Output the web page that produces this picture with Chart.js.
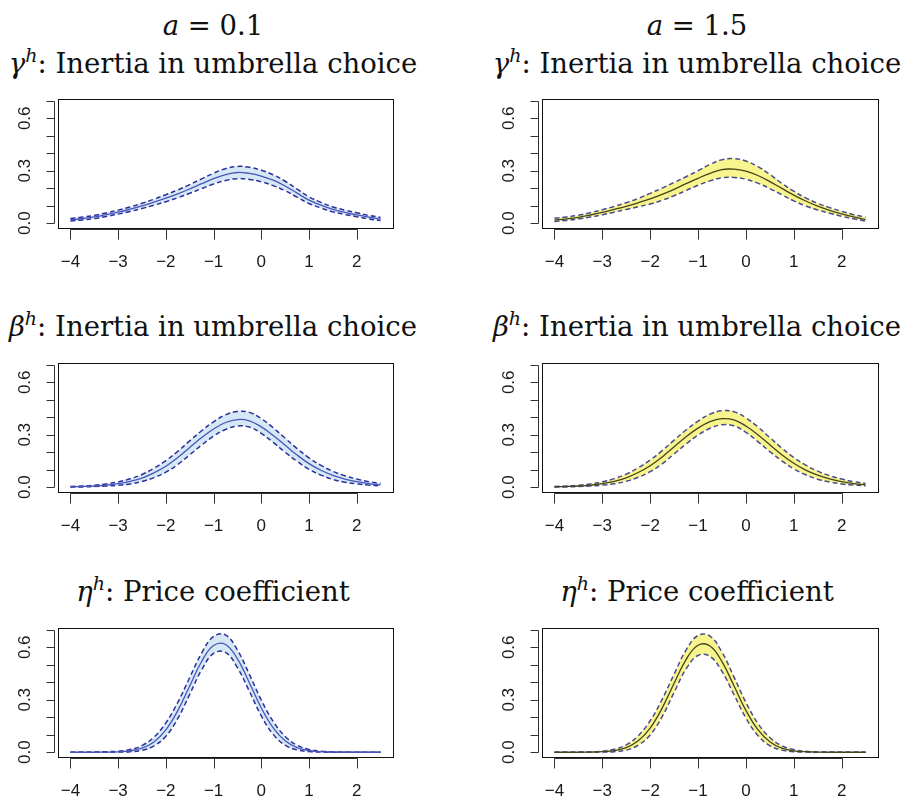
<!DOCTYPE html>
<html>
<head>
<meta charset="utf-8">
<script src="https://cdn.jsdelivr.net/npm/chart.js@4.4.0/dist/chart.umd.min.js"></script>
<style>
  body { margin: 0; width: 904px; height: 798px; overflow: hidden; background: #fff; position: relative; }
  .ttl { position: absolute; width: 426px; text-align: center; font-family: "DejaVu Serif", serif;
         font-size: 27.5px; line-height: 29px; white-space: nowrap; color: #111; }
  .ttl sup { font-size: 19px; line-height: 0; vertical-align: baseline; position: relative; top: -11px; }
  canvas { position: absolute; }
</style>
</head>
<body>
<div class="ttl" style="left:0;top:11px"><i>a</i> = 0.1</div>
<div class="ttl" style="left:484px;top:11px"><i>a</i> = 1.5</div>
<div class="ttl" style="left:0;top:49px"><i>γ</i><sup><i>h</i></sup>: Inertia in umbrella choice</div>
<div class="ttl" style="left:484px;top:49px"><i>γ</i><sup><i>h</i></sup>: Inertia in umbrella choice</div>
<div class="ttl" style="left:0;top:312px"><i>β</i><sup><i>h</i></sup>: Inertia in umbrella choice</div>
<div class="ttl" style="left:484px;top:312px"><i>β</i><sup><i>h</i></sup>: Inertia in umbrella choice</div>
<div class="ttl" style="left:0;top:577px"><i>η</i><sup><i>h</i></sup>: Price coefficient</div>
<div class="ttl" style="left:484px;top:577px"><i>η</i><sup><i>h</i></sup>: Price coefficient</div>

<canvas id="c1" width="405" height="181" style="left:0;top:89px"></canvas>
<canvas id="c2" width="406" height="181" style="left:484px;top:89px"></canvas>
<canvas id="c3" width="405" height="181" style="left:0;top:353px"></canvas>
<canvas id="c4" width="406" height="181" style="left:484px;top:353px"></canvas>
<canvas id="c5" width="405" height="181" style="left:0;top:618px"></canvas>
<canvas id="c6" width="406" height="181" style="left:484px;top:618px"></canvas>

<script>
var xs = [-4, -3.75, -3.5, -3.25, -3, -2.75, -2.5, -2.25, -2, -1.75, -1.5, -1.25, -1, -0.75, -0.5, -0.25,
          0, 0.25, 0.5, 0.75, 1, 1.25, 1.5, 1.75, 2, 2.25, 2.5];

// gamma^h
var gamma01Mean = [0.020, 0.027, 0.036, 0.049, 0.063, 0.080, 0.099, 0.120, 0.143, 0.168, 0.196, 0.226, 0.255, 0.278, 0.290, 0.285, 0.270, 0.246, 0.213, 0.172, 0.132, 0.103, 0.079, 0.062, 0.048, 0.035, 0.024];
var gamma01Up   = [0.027, 0.035, 0.045, 0.059, 0.075, 0.093, 0.114, 0.137, 0.163, 0.190, 0.221, 0.254, 0.286, 0.312, 0.325, 0.320, 0.303, 0.277, 0.240, 0.195, 0.151, 0.119, 0.093, 0.075, 0.060, 0.045, 0.033];
var gamma01Lo   = [0.013, 0.019, 0.027, 0.039, 0.052, 0.067, 0.084, 0.103, 0.123, 0.146, 0.171, 0.198, 0.224, 0.244, 0.255, 0.250, 0.237, 0.215, 0.186, 0.149, 0.113, 0.087, 0.065, 0.050, 0.037, 0.025, 0.015];
var gamma15Mean = [0.018, 0.025, 0.034, 0.047, 0.062, 0.079, 0.097, 0.117, 0.139, 0.165, 0.194, 0.226, 0.257, 0.285, 0.307, 0.309, 0.298, 0.273, 0.238, 0.199, 0.161, 0.127, 0.098, 0.074, 0.054, 0.036, 0.021];
var gamma15Up   = [0.029, 0.036, 0.046, 0.060, 0.077, 0.096, 0.117, 0.142, 0.171, 0.201, 0.233, 0.266, 0.300, 0.336, 0.363, 0.369, 0.356, 0.324, 0.279, 0.228, 0.183, 0.145, 0.114, 0.089, 0.068, 0.049, 0.034];
var gamma15Lo   = [0.010, 0.016, 0.024, 0.035, 0.048, 0.063, 0.079, 0.094, 0.110, 0.131, 0.157, 0.187, 0.217, 0.242, 0.260, 0.262, 0.252, 0.229, 0.198, 0.163, 0.128, 0.099, 0.076, 0.057, 0.040, 0.025, 0.012];

// beta^h
var beta01Mean = [0.002, 0.004, 0.007, 0.012, 0.020, 0.033, 0.052, 0.082, 0.120, 0.170, 0.227, 0.284, 0.333, 0.370, 0.387, 0.380, 0.345, 0.296, 0.240, 0.184, 0.135, 0.097, 0.068, 0.047, 0.032, 0.021, 0.014];
var beta01Up   = [0.004, 0.007, 0.011, 0.019, 0.030, 0.048, 0.073, 0.108, 0.152, 0.205, 0.265, 0.323, 0.374, 0.414, 0.433, 0.428, 0.392, 0.340, 0.280, 0.221, 0.168, 0.125, 0.091, 0.066, 0.047, 0.032, 0.022];
var beta01Lo   = [0.001, 0.002, 0.004, 0.007, 0.011, 0.019, 0.033, 0.055, 0.086, 0.130, 0.185, 0.241, 0.292, 0.330, 0.350, 0.344, 0.308, 0.256, 0.200, 0.148, 0.102, 0.069, 0.045, 0.029, 0.019, 0.012, 0.008];
var beta15Mean = [0.002, 0.004, 0.007, 0.012, 0.021, 0.034, 0.054, 0.084, 0.123, 0.173, 0.231, 0.289, 0.338, 0.375, 0.392, 0.385, 0.350, 0.300, 0.243, 0.186, 0.137, 0.098, 0.069, 0.048, 0.032, 0.021, 0.014];
var beta15Up   = [0.004, 0.007, 0.011, 0.019, 0.031, 0.049, 0.075, 0.111, 0.156, 0.209, 0.269, 0.327, 0.378, 0.418, 0.437, 0.432, 0.397, 0.345, 0.284, 0.224, 0.170, 0.126, 0.092, 0.066, 0.047, 0.032, 0.022];
var beta15Lo   = [0.001, 0.002, 0.004, 0.007, 0.012, 0.020, 0.034, 0.057, 0.089, 0.134, 0.190, 0.247, 0.298, 0.337, 0.357, 0.351, 0.314, 0.261, 0.204, 0.151, 0.105, 0.071, 0.046, 0.030, 0.019, 0.012, 0.008];

// eta^h
var eta01Mean = [0, 0, 0, 0.001, 0.002, 0.008, 0.023, 0.059, 0.128, 0.238, 0.379, 0.519, 0.610, 0.616, 0.534, 0.397, 0.253, 0.139, 0.065, 0.026, 0.009, 0.003, 0.001, 0, 0, 0, 0];
var eta01Up   = [0, 0, 0.001, 0.003, 0.006, 0.015, 0.038, 0.086, 0.168, 0.285, 0.427, 0.567, 0.662, 0.671, 0.584, 0.445, 0.298, 0.176, 0.090, 0.040, 0.016, 0.006, 0.002, 0.001, 0, 0, 0];
var eta01Lo   = [0, 0, 0, 0, 0.001, 0.003, 0.011, 0.036, 0.091, 0.193, 0.331, 0.471, 0.565, 0.571, 0.484, 0.349, 0.208, 0.102, 0.040, 0.013, 0.004, 0.001, 0, 0, 0, 0, 0];
var eta15Mean = [0, 0, 0, 0.001, 0.003, 0.009, 0.026, 0.065, 0.138, 0.252, 0.394, 0.530, 0.612, 0.607, 0.518, 0.380, 0.239, 0.129, 0.060, 0.023, 0.008, 0.003, 0.001, 0, 0, 0, 0];
var eta15Up   = [0, 0, 0.001, 0.002, 0.006, 0.017, 0.042, 0.094, 0.180, 0.302, 0.446, 0.584, 0.668, 0.664, 0.572, 0.431, 0.285, 0.165, 0.084, 0.037, 0.015, 0.005, 0.002, 0.001, 0, 0, 0];
var eta15Lo   = [0, 0, 0, 0, 0.001, 0.003, 0.012, 0.040, 0.099, 0.203, 0.342, 0.476, 0.553, 0.548, 0.462, 0.330, 0.196, 0.096, 0.038, 0.012, 0.003, 0.001, 0, 0, 0, 0, 0];

var xTicks = [-4, -3, -2, -1, 0, 1, 2];
var xTickLabels = ['\u22124', '\u22123', '\u22122', '\u22121', '0', '1', '2'];
var yTicks = [0, 0.1, 0.2, 0.3, 0.4, 0.5, 0.6, 0.7];
var yLabelTicks = [0, 0.3, 0.6];
var yTickLabels = ['0.0', '0.3', '0.6'];

var blue = { fill: '#d6e8f5', mean: '#4756b8', band: '#2c309c' };
var yellow = { fill: '#f8f58e', mean: '#45451c', band: '#4a4a92' };

function pts(ys) {
  var out = [];
  for (var i = 0; i < xs.length; i++) out.push({ x: xs[i], y: ys[i] });
  return out;
}

// box + R style axes drawn from the chart's own scales
var rAxes = {
  id: 'rAxes',
  afterDraw: function (chart) {
    var ctx = chart.ctx, a = chart.chartArea;
    var sx = chart.scales.x, sy = chart.scales.y;
    ctx.save();
    ctx.lineWidth = 1;
    ctx.strokeStyle = '#111';
    ctx.strokeRect(a.left + 0.5, a.top + 0.5, a.right - a.left, a.bottom - a.top);

    ctx.strokeStyle = '#333';
    var ax = a.left - 4 + 0.5;
    ctx.beginPath();
    ctx.moveTo(ax, Math.round(sy.getPixelForValue(yTicks[0])) + 0.5);
    ctx.lineTo(ax, Math.round(sy.getPixelForValue(yTicks[yTicks.length - 1])) + 0.5);
    for (var i = 0; i < yTicks.length; i++) {
      var py = Math.round(sy.getPixelForValue(yTicks[i])) + 0.5;
      ctx.moveTo(ax, py);
      ctx.lineTo(ax - 8, py);
    }
    var ay = a.bottom + 1.5;
    ctx.moveTo(Math.round(sx.getPixelForValue(xTicks[0])) + 0.5, ay);
    ctx.lineTo(Math.round(sx.getPixelForValue(xTicks[xTicks.length - 1])) + 0.5, ay);
    for (var j = 0; j < xTicks.length; j++) {
      var px = Math.round(sx.getPixelForValue(xTicks[j])) + 0.5;
      ctx.moveTo(px, ay);
      ctx.lineTo(px, ay + 10);
    }
    ctx.stroke();

    ctx.fillStyle = '#1a1a1a';
    ctx.font = '17px "Liberation Sans", Arial, sans-serif';
    ctx.textAlign = 'center';
    ctx.textBaseline = 'middle';
    for (var k = 0; k < xTicks.length; k++) {
      ctx.fillText(xTickLabels[k], sx.getPixelForValue(xTicks[k]), a.bottom + 34);
    }
    for (var m = 0; m < yLabelTicks.length; m++) {
      ctx.save();
      ctx.translate(a.left - 33, sy.getPixelForValue(yLabelTicks[m]));
      ctx.rotate(-Math.PI / 2);
      ctx.fillText(yTickLabels[m], 0, 0);
      ctx.restore();
    }
    ctx.restore();
  }
};

function makePanel(id, mean, up, lo, pal) {
  new Chart(document.getElementById(id), {
    type: 'line',
    data: {
      datasets: [
        { data: pts(mean), borderColor: pal.mean, borderWidth: 1.3, fill: false },
        { data: pts(up), borderColor: pal.band, borderWidth: 1.5, borderDash: [5, 3], fill: '+1', backgroundColor: pal.fill },
        { data: pts(lo), borderColor: pal.band, borderWidth: 1.5, borderDash: [5, 3], fill: false }
      ]
    },
    options: {
      responsive: false,
      animation: false,
      layout: { padding: { top: 10, right: 12, left: 0, bottom: 0 } },
      elements: { point: { radius: 0 }, line: { tension: 0.4 } },
      plugins: { legend: { display: false }, tooltip: { enabled: false }, filler: { drawTime: 'beforeDatasetsDraw' } },
      scales: {
        x: {
          type: 'linear', min: -4.26, max: 2.76,
          grid: { display: false }, border: { display: false }, ticks: { display: false },
          afterFit: function (s) { s.height = 42; }
        },
        y: {
          min: -0.0273, max: 0.7103,
          grid: { display: false }, border: { display: false }, ticks: { display: false },
          afterFit: function (s) { s.width = 58; }
        }
      }
    },
    plugins: [rAxes]
  });
}

makePanel('c1', gamma01Mean, gamma01Up, gamma01Lo, blue);
makePanel('c2', gamma15Mean, gamma15Up, gamma15Lo, yellow);
makePanel('c3', beta01Mean, beta01Up, beta01Lo, blue);
makePanel('c4', beta15Mean, beta15Up, beta15Lo, yellow);
makePanel('c5', eta01Mean, eta01Up, eta01Lo, blue);
makePanel('c6', eta15Mean, eta15Up, eta15Lo, yellow);
</script>
</body>
</html>
